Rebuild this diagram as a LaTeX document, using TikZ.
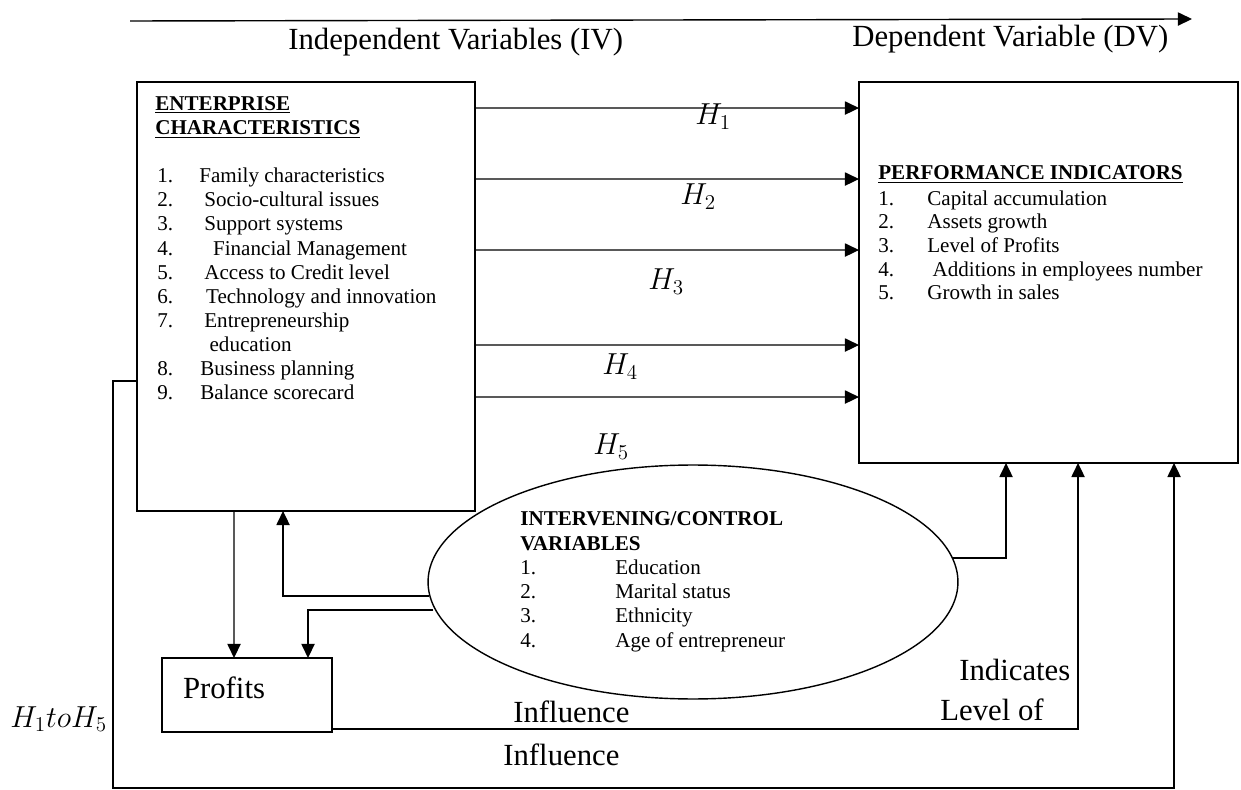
\documentclass[tikz,border=0pt]{standalone}
\usepackage{fontspec}
\setmainfont{Liberation Serif}
\usetikzlibrary{arrows.meta,shapes.geometric,calc}

\tikzset{
  caja/.style={draw, line width=0.7pt, inner sep=0pt, outer sep=0pt},
  flecha/.style={-{Triangle[length=8pt,width=7.5pt]}, line width=0.8pt},
  grande/.style={font=\fontsize{17.5}{21}\selectfont, inner sep=0pt, anchor=base west},
  lista/.style={font=\fontsize{12}{13.7}\selectfont, align=left, inner sep=0pt, anchor=base west},
  titulo/.style={lista, font=\bfseries\fontsize{12}{14.2}\selectfont},
}

\begin{document}
\begin{tikzpicture}[x=0.02cm, y=-0.02cm]
    \useasboundingbox (0,0) rectangle (1241,790);

    % Eje superior (IV -> DV)
    \coordinate (ejeA) at (130,21);
    \coordinate (ejeB) at (1192,19);
    \draw[flecha] (ejeA) -- (ejeB);
    \node[grande] (iv) at (288,50) {Independent Variables (IV)};
    \node[grande] (dv) at (852,47) {Dependent Variable (DV)};

    % Cajas principales
    \node[caja, minimum width=6.76cm, minimum height=8.58cm] (ent) at (306,296.5) {};
    \node[caja, minimum width=7.58cm, minimum height=7.62cm] (perf) at (1048.5,272.5) {};
    \node[caja, font=\fontsize{17.5}{21}\selectfont, inner xsep=0.42cm, text width=2.56cm,
          align=left, minimum height=1.48cm, text height=0.42cm, text depth=0.3cm] (prof) at (247,695) {Profits};

    % Elipse de variables intervinientes
    \node[draw, ellipse, line width=0.8pt, minimum width=10.6cm, minimum height=4.68cm, inner sep=0pt] (ell) at (693,582) {};

    % Texto de la caja izquierda (ancla en la ultima linea)
    \node[titulo] (entT) at (155,135) {\underline{ENTERPRISE}\\\underline{CHARACTERISTICS}};
    \node[lista, font=\fontsize{12}{13.75}\selectfont] (entL) at (157,400) {%
        \makebox[0.84cm][l]{1.}Family characteristics\\
        \makebox[0.94cm][l]{2.}Socio-cultural issues\\
        \makebox[0.94cm][l]{3.}Support systems\\
        \makebox[0.94cm][l]{4.}\hspace{5pt}Financial Management\\
        \makebox[0.94cm][l]{5.}Access to Credit level\\
        \makebox[0.94cm][l]{6.}\hspace{1pt}Technology and innovation\\
        \makebox[0.94cm][l]{7.}Entrepreneurship\\
        \makebox[0.94cm][l]{}\hspace{3pt}education\\
        \makebox[0.86cm][l]{8.}Business planning\\
        \makebox[0.86cm][l]{9.}Balance scorecard};

    % Texto de la caja derecha
    \node[titulo] (perfT) at (878,180) {\underline{PERFORMANCE INDICATORS}};
    \node[lista, font=\fontsize{12}{13.5}\selectfont] (perfL) at (878,300) {%
        \makebox[0.98cm][l]{1.}Capital accumulation\\
        \makebox[0.98cm][l]{2.}Assets growth\\
        \makebox[0.98cm][l]{3.}Level of Profits\\
        \makebox[0.98cm][l]{4.}\hspace{3pt}Additions in employees number\\
        \makebox[0.98cm][l]{5.}Growth in sales};

    % Texto de la elipse
    \node[lista, font=\fontsize{12}{13.8}\selectfont] (ellT) at (520,647) {%
        \textbf{INTERVENING/CONTROL}\\
        \textbf{VARIABLES}\\
        \makebox[1.9cm][l]{1.}Education\\
        \makebox[1.9cm][l]{2.}Marital status\\
        \makebox[1.9cm][l]{3.}Ethnicity\\
        \makebox[1.9cm][l]{4.}Age of entrepreneur};

    % Hipotesis H1 a H5
    \draw[flecha] ($(ent.north east)+(0,26)$) -- ($(perf.north west)+(0,26)$);
    \draw[flecha] ($(ent.north east)+(0,97)$) -- ($(perf.north west)+(0,97)$);
    \draw[flecha] ($(ent.north east)+(0,168)$) -- ($(perf.north west)+(0,168)$);
    \draw[flecha] ($(ent.north east)+(0,263)$) -- ($(perf.north west)+(0,263)$);
    \draw[flecha] ($(ent.north east)+(0,315)$) -- ($(perf.north west)+(0,315)$);

    \node[grande] (h1) at (695,125) {$H_1$};
    \node[grande] (h2) at (680,205) {$H_2$};
    \node[grande] (h3) at (648,290) {$H_3$};
    \node[grande] (h4) at (602,375) {$H_4$};
    \node[grande] (h5) at (593,455) {$H_5$};

    % Conexiones hacia y desde Profits
    \draw[flecha] ($(ent.south west)+(97,0)$) -- ($(prof.north west)+(72,0)$);
    \draw[flecha] ($(ell.west)+(2,14)$) -| ($(ent.south west)+(146,0)$);
    \draw[flecha] ($(ell.west)+(6,28)$) -| ($(prof.north west)+(146,0)$);
    \draw[flecha] ($(ell.east)+(-6,-24)$) -| ($(perf.south west)+(147,0)$);
    \draw[flecha] ($(prof.south east)+(0,-3)$) -| ($(perf.south west)+(219,0)$);

    % Lazo exterior H1 to H5
    \coordinate (esq) at (113,788);
    \draw[flecha] ($(ent.north west)+(0,299)$) -| (esq) -| ($(perf.south west)+(315,0)$);

    % Etiquetas de las conexiones
    \node[grande] (h15) at (10,727) {$H_1 to H_5$};
    \node[grande] (inf1) at (513,722) {Influence};
    \node[grande] (inf2) at (503,765) {Influence};
    \node[grande] (ind) at (959,680) {Indicates};
    \node[grande] (lvl) at (940,720) {Level of};

\end{tikzpicture}
\end{document}
